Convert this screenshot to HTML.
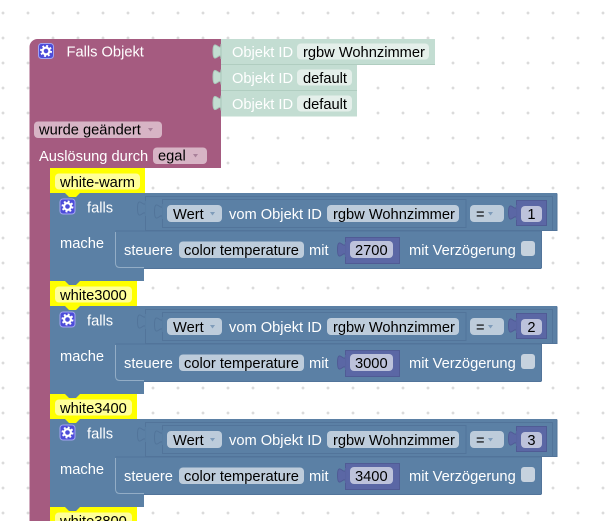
<!DOCTYPE html>
<html>
<head>
<meta charset="utf-8">
<style>
  html,body{margin:0;padding:0;background:#fff;}
  svg{display:block;}
  text{font-family:"Liberation Sans",Arial,sans-serif;font-size:14.67px;}
  .w{fill:#fff;}
  .k{fill:#000;}
</style>
</head>
<body>
<svg width="607" height="521" viewBox="0 0 607 521" xmlns="http://www.w3.org/2000/svg">
  <defs>
    <pattern id="grid" width="25" height="25" patternUnits="userSpaceOnUse" x="-9.5" y="0.5">
      <path d="M11,12.5h3M12.5,11v3" stroke="#cfcfcf" stroke-width="1" fill="none"/>
    </pattern>
    <g id="gear">
      <rect x="0.5" y="0.5" width="15" height="15" rx="3" fill="#4c4cd9" stroke="#a3a3f2" stroke-width="1"/>
      <circle cx="8" cy="8" r="3.4" fill="none" stroke="#fff" stroke-width="2.2"/>
      <circle cx="8" cy="8" r="5" fill="none" stroke="#fff" stroke-width="2" stroke-dasharray="1.9 2.03"/>
    </g>
  </defs>

  <rect x="0" y="0" width="607" height="521" fill="#fff"/>
  <rect x="0" y="0" width="607" height="521" fill="url(#grid)"/>

  <!-- Purple event block -->
  <path d="M29.5,521 V47 A8,8 0 0 1 37.5,39 H221 V168 H50 V521 Z" fill="#a55b80"/>
  <g transform="translate(38,43)"><use href="#gear"/></g>
  <text x="66.5" y="56.5" class="w">Falls Objekt</text>

  <!-- wurde geändert -->
  <rect x="34" y="121.5" width="128" height="16.5" rx="4" fill="#d7b4c5"/>
  <text x="39" y="134.5" class="k">wurde geändert</text>
  <path d="M148,128 h5 l-2.5,3.5 Z" fill="#a9809a"/>
  <!-- Auslösung durch -->
  <text x="39" y="161" class="w">Auslösung durch</text>
  <rect x="153" y="147.5" width="54" height="16.5" rx="4" fill="#d7b4c5"/>
  <text x="158" y="160.5" class="k">egal</text>
  <path d="M193,154 h5 l-2.5,3.5 Z" fill="#a9809a"/>

  <!-- Green Objekt ID blocks -->
  <g>
    <rect x="221" y="39" width="214" height="25.5" fill="#c3ddd2"/>
    <rect x="221" y="64.5" width="136" height="26" fill="#c3ddd2"/>
    <rect x="221" y="90.5" width="136" height="26" fill="#c3ddd2"/>
    <path d="M221,64.5 H435 M221,90.5 H357" stroke="#b0cdc0" stroke-width="1"/>
    <path d="M221,44 c0,10 -8,-8 -8,7.5 s8,-2.5 8,7.5 Z" fill="#c3ddd2" stroke="#a9c8ba" stroke-width="1"/>
    <path d="M221,69.5 c0,10 -8,-8 -8,7.5 s8,-2.5 8,7.5 Z" fill="#c3ddd2" stroke="#a9c8ba" stroke-width="1"/>
    <path d="M221,95.5 c0,10 -8,-8 -8,7.5 s8,-2.5 8,7.5 Z" fill="#c3ddd2" stroke="#a9c8ba" stroke-width="1"/>

    <text x="232" y="57" class="w">Objekt ID</text>
    <rect x="297" y="43.5" width="132" height="16" rx="4" fill="#e4efea"/>
    <text x="303" y="57" class="k">rgbw Wohnzimmer</text>

    <text x="232" y="83" class="w">Objekt ID</text>
    <rect x="297" y="69.5" width="55" height="16" rx="4" fill="#e4efea"/>
    <text x="303" y="83" class="k">default</text>

    <text x="232" y="109" class="w">Objekt ID</text>
    <rect x="297" y="95.5" width="55" height="16" rx="4" fill="#e4efea"/>
    <text x="303" y="109" class="k">default</text>
  </g>

  <!-- Section 1 : y0 = 168 -->
  <g transform="translate(0,168)">
    <path d="M50,0 H145 V25 H50 Z" fill="#ffff00"/>
    <rect x="55" y="5.5" width="85" height="16" rx="4" fill="#ffff99"/>
    <text x="60" y="19" class="k">white-warm</text>

    <path d="M50,25 H557 V63 H115 V100 H144 V113 H50 Z" fill="#5b80a5"/>
    <path d="M65,25 l4,4 h7 l4,-4 Z" fill="#ffff00"/>
    <path d="M65,113 l4,4 h7 l4,-4 Z" fill="#5b80a5"/>
    <path d="M557,25.5 V62.5 H541" fill="none" stroke="#52749a" stroke-width="1"/>
    <use href="#gear" x="60" y="31" transform="translate(-0.5,-0.5)"/>
    <text x="87" y="44.5" class="w">falls</text>

    <rect x="145.5" y="28.5" width="407" height="34" fill="#5b80a5" stroke="#52749a" stroke-width="1"/>
    <path d="M145.5,33 c0,10 -8,-8 -8,7.5 s8,-2.5 8,7.5 Z" fill="#5b80a5" stroke="#52749a" stroke-width="1"/>
    <path d="M146,33 V48" stroke="#5b80a5" stroke-width="1.5"/>
    <rect x="162.5" y="31.5" width="303.5" height="28" fill="#5b80a5" stroke="#52749a" stroke-width="1"/>
    <path d="M162.5,36 c0,10 -8,-8 -8,7.5 s8,-2.5 8,7.5 Z" fill="#5b80a5" stroke="#52749a" stroke-width="1"/>
    <path d="M163,36 V51" stroke="#5b80a5" stroke-width="1.5"/>
    <rect x="167" y="37" width="55" height="17" rx="4" fill="#bdccdb"/>
    <text x="173" y="51" class="k">Wert</text>
    <path d="M210,44 h5 l-2.5,3.5 Z" fill="#7f9cba"/>
    <text x="229" y="51" class="w">vom Objekt ID</text>
    <rect x="327" y="37" width="132" height="17" rx="4" fill="#bdccdb"/>
    <text x="333" y="51" class="k">rgbw Wohnzimmer</text>
    <rect x="470" y="37" width="34" height="17" rx="4" fill="#bdccdb"/>
    <text x="476" y="51" class="k">=</text>
    <path d="M488,44 h5 l-2.5,3.5 Z" fill="#7f9cba"/>
    <rect x="516.5" y="32.5" width="30" height="25" fill="#5b67a5" stroke="#505b95" stroke-width="1"/>
    <path d="M516.5,37 c0,10 -8,-8 -8,7.5 s8,-2.5 8,7.5 Z" fill="#5b67a5" stroke="#505b95" stroke-width="1"/>
    <path d="M517,37 V52" stroke="#5b67a5" stroke-width="1.5"/>
    <rect x="521" y="38" width="21" height="16" rx="4" fill="#bdc2db"/>
    <text x="531.5" y="51" class="k" text-anchor="middle">1</text>

    <text x="60" y="80" class="w">mache</text>
    <path d="M115,63 H541 V100 H115 Z" fill="#5b80a5"/>
    <path d="M115.5,63 H541.5 V100" fill="none" stroke="#52749a" stroke-width="1"/>
    <path d="M115.5,64 V95 Q115.5,99.5 120,99.5 H144" fill="none" stroke="#93adc6" stroke-width="1"/>
    <path d="M144,100.5 H541.5" stroke="#52749a" stroke-width="1"/>
    <text x="124" y="87" class="w">steuere</text>
    <rect x="179" y="73.5" width="125" height="16.5" rx="4" fill="#bdccdb"/>
    <text x="184" y="87" class="k">color temperature</text>
    <text x="309" y="87" class="w">mit</text>
    <rect x="345.5" y="69.5" width="54" height="26" fill="#5b67a5" stroke="#505b95" stroke-width="1"/>
    <path d="M345.5,74 c0,10 -8,-8 -8,7.5 s8,-2.5 8,7.5 Z" fill="#5b67a5" stroke="#505b95" stroke-width="1"/>
    <path d="M346,74 V89" stroke="#5b67a5" stroke-width="1.5"/>
    <rect x="350" y="73" width="43" height="17" rx="4" fill="#bdc2db"/>
    <text x="355" y="87" class="k">2700</text>
    <text x="409" y="87" class="w">mit Verzögerung</text>
    <rect x="521" y="73" width="14" height="15" rx="3" fill="#c6d2de"/>
  </g>

  <!-- Section 2 : y0 = 281 -->
  <g transform="translate(0,281)">
    <path d="M50,0 H137 V25 H50 Z" fill="#ffff00"/>
    <rect x="55" y="5.5" width="77" height="16" rx="4" fill="#ffff99"/>
    <text x="60" y="19" class="k">white3000</text>
    <path d="M65,0 l4,4 h7 l4,-4 Z" fill="#5b80a5"/>

    <path d="M50,25 H557 V63 H115 V100 H144 V113 H50 Z" fill="#5b80a5"/>
    <path d="M65,25 l4,4 h7 l4,-4 Z" fill="#ffff00"/>
    <path d="M65,113 l4,4 h7 l4,-4 Z" fill="#5b80a5"/>
    <path d="M557,25.5 V62.5 H541" fill="none" stroke="#52749a" stroke-width="1"/>
    <use href="#gear" x="60" y="31" transform="translate(-0.5,-0.5)"/>
    <text x="87" y="44.5" class="w">falls</text>

    <rect x="145.5" y="28.5" width="407" height="34" fill="#5b80a5" stroke="#52749a" stroke-width="1"/>
    <path d="M145.5,33 c0,10 -8,-8 -8,7.5 s8,-2.5 8,7.5 Z" fill="#5b80a5" stroke="#52749a" stroke-width="1"/>
    <path d="M146,33 V48" stroke="#5b80a5" stroke-width="1.5"/>
    <rect x="162.5" y="31.5" width="303.5" height="28" fill="#5b80a5" stroke="#52749a" stroke-width="1"/>
    <path d="M162.5,36 c0,10 -8,-8 -8,7.5 s8,-2.5 8,7.5 Z" fill="#5b80a5" stroke="#52749a" stroke-width="1"/>
    <path d="M163,36 V51" stroke="#5b80a5" stroke-width="1.5"/>
    <rect x="167" y="37" width="55" height="17" rx="4" fill="#bdccdb"/>
    <text x="173" y="51" class="k">Wert</text>
    <path d="M210,44 h5 l-2.5,3.5 Z" fill="#7f9cba"/>
    <text x="229" y="51" class="w">vom Objekt ID</text>
    <rect x="327" y="37" width="132" height="17" rx="4" fill="#bdccdb"/>
    <text x="333" y="51" class="k">rgbw Wohnzimmer</text>
    <rect x="470" y="37" width="34" height="17" rx="4" fill="#bdccdb"/>
    <text x="476" y="51" class="k">=</text>
    <path d="M488,44 h5 l-2.5,3.5 Z" fill="#7f9cba"/>
    <rect x="516.5" y="32.5" width="30" height="25" fill="#5b67a5" stroke="#505b95" stroke-width="1"/>
    <path d="M516.5,37 c0,10 -8,-8 -8,7.5 s8,-2.5 8,7.5 Z" fill="#5b67a5" stroke="#505b95" stroke-width="1"/>
    <path d="M517,37 V52" stroke="#5b67a5" stroke-width="1.5"/>
    <rect x="521" y="38" width="21" height="16" rx="4" fill="#bdc2db"/>
    <text x="531.5" y="51" class="k" text-anchor="middle">2</text>

    <text x="60" y="80" class="w">mache</text>
    <path d="M115,63 H541 V100 H115 Z" fill="#5b80a5"/>
    <path d="M115.5,63 H541.5 V100" fill="none" stroke="#52749a" stroke-width="1"/>
    <path d="M115.5,64 V95 Q115.5,99.5 120,99.5 H144" fill="none" stroke="#93adc6" stroke-width="1"/>
    <path d="M144,100.5 H541.5" stroke="#52749a" stroke-width="1"/>
    <text x="124" y="87" class="w">steuere</text>
    <rect x="179" y="73.5" width="125" height="16.5" rx="4" fill="#bdccdb"/>
    <text x="184" y="87" class="k">color temperature</text>
    <text x="309" y="87" class="w">mit</text>
    <rect x="345.5" y="69.5" width="54" height="26" fill="#5b67a5" stroke="#505b95" stroke-width="1"/>
    <path d="M345.5,74 c0,10 -8,-8 -8,7.5 s8,-2.5 8,7.5 Z" fill="#5b67a5" stroke="#505b95" stroke-width="1"/>
    <path d="M346,74 V89" stroke="#5b67a5" stroke-width="1.5"/>
    <rect x="350" y="73" width="43" height="17" rx="4" fill="#bdc2db"/>
    <text x="355" y="87" class="k">3000</text>
    <text x="409" y="87" class="w">mit Verzögerung</text>
    <rect x="521" y="73" width="14" height="15" rx="3" fill="#c6d2de"/>
  </g>

  <!-- Section 3 : y0 = 394 -->
  <g transform="translate(0,394)">
    <path d="M50,0 H137 V25 H50 Z" fill="#ffff00"/>
    <rect x="55" y="5.5" width="77" height="16" rx="4" fill="#ffff99"/>
    <text x="60" y="19" class="k">white3400</text>
    <path d="M65,0 l4,4 h7 l4,-4 Z" fill="#5b80a5"/>

    <path d="M50,25 H557 V63 H115 V100 H144 V113 H50 Z" fill="#5b80a5"/>
    <path d="M65,25 l4,4 h7 l4,-4 Z" fill="#ffff00"/>
    <path d="M557,25.5 V62.5 H541" fill="none" stroke="#52749a" stroke-width="1"/>
    <use href="#gear" x="60" y="31" transform="translate(-0.5,-0.5)"/>
    <text x="87" y="44.5" class="w">falls</text>

    <rect x="145.5" y="28.5" width="407" height="34" fill="#5b80a5" stroke="#52749a" stroke-width="1"/>
    <path d="M145.5,33 c0,10 -8,-8 -8,7.5 s8,-2.5 8,7.5 Z" fill="#5b80a5" stroke="#52749a" stroke-width="1"/>
    <path d="M146,33 V48" stroke="#5b80a5" stroke-width="1.5"/>
    <rect x="162.5" y="31.5" width="303.5" height="28" fill="#5b80a5" stroke="#52749a" stroke-width="1"/>
    <path d="M162.5,36 c0,10 -8,-8 -8,7.5 s8,-2.5 8,7.5 Z" fill="#5b80a5" stroke="#52749a" stroke-width="1"/>
    <path d="M163,36 V51" stroke="#5b80a5" stroke-width="1.5"/>
    <rect x="167" y="37" width="55" height="17" rx="4" fill="#bdccdb"/>
    <text x="173" y="51" class="k">Wert</text>
    <path d="M210,44 h5 l-2.5,3.5 Z" fill="#7f9cba"/>
    <text x="229" y="51" class="w">vom Objekt ID</text>
    <rect x="327" y="37" width="132" height="17" rx="4" fill="#bdccdb"/>
    <text x="333" y="51" class="k">rgbw Wohnzimmer</text>
    <rect x="470" y="37" width="34" height="17" rx="4" fill="#bdccdb"/>
    <text x="476" y="51" class="k">=</text>
    <path d="M488,44 h5 l-2.5,3.5 Z" fill="#7f9cba"/>
    <rect x="516.5" y="32.5" width="30" height="25" fill="#5b67a5" stroke="#505b95" stroke-width="1"/>
    <path d="M516.5,37 c0,10 -8,-8 -8,7.5 s8,-2.5 8,7.5 Z" fill="#5b67a5" stroke="#505b95" stroke-width="1"/>
    <path d="M517,37 V52" stroke="#5b67a5" stroke-width="1.5"/>
    <rect x="521" y="38" width="21" height="16" rx="4" fill="#bdc2db"/>
    <text x="531.5" y="51" class="k" text-anchor="middle">3</text>

    <text x="60" y="80" class="w">mache</text>
    <path d="M115,63 H541 V100 H115 Z" fill="#5b80a5"/>
    <path d="M115.5,63 H541.5 V100" fill="none" stroke="#52749a" stroke-width="1"/>
    <path d="M115.5,64 V95 Q115.5,99.5 120,99.5 H144" fill="none" stroke="#93adc6" stroke-width="1"/>
    <path d="M144,100.5 H541.5" stroke="#52749a" stroke-width="1"/>
    <text x="124" y="87" class="w">steuere</text>
    <rect x="179" y="73.5" width="125" height="16.5" rx="4" fill="#bdccdb"/>
    <text x="184" y="87" class="k">color temperature</text>
    <text x="309" y="87" class="w">mit</text>
    <rect x="345.5" y="69.5" width="54" height="26" fill="#5b67a5" stroke="#505b95" stroke-width="1"/>
    <path d="M345.5,74 c0,10 -8,-8 -8,7.5 s8,-2.5 8,7.5 Z" fill="#5b67a5" stroke="#505b95" stroke-width="1"/>
    <path d="M346,74 V89" stroke="#5b67a5" stroke-width="1.5"/>
    <rect x="350" y="73" width="43" height="17" rx="4" fill="#bdc2db"/>
    <text x="355" y="87" class="k">3400</text>
    <text x="409" y="87" class="w">mit Verzögerung</text>
    <rect x="521" y="73" width="14" height="15" rx="3" fill="#c6d2de"/>
  </g>

  <!-- Section 4 : y0 = 507 (cut off) -->
  <g transform="translate(0,507)">
    <path d="M50,0 H137 V25 H50 Z" fill="#ffff00"/>
    <rect x="55" y="5.5" width="77" height="16" rx="4" fill="#ffff99"/>
    <text x="60" y="19" class="k">white3800</text>
    <path d="M65,0 l4,4 h7 l4,-4 Z" fill="#5b80a5"/>
  </g>
</svg>
</body>
</html>
